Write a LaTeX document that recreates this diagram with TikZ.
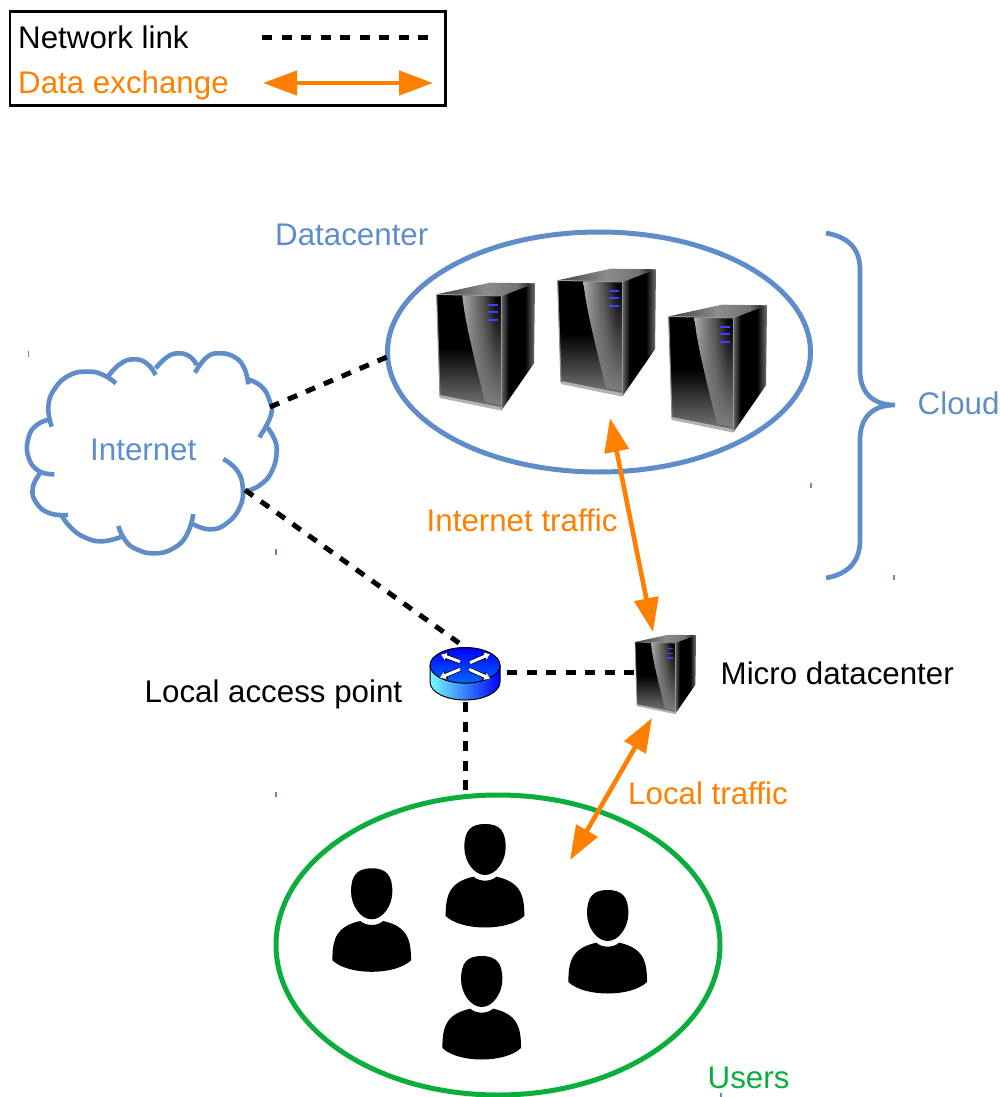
\documentclass[tikz,border=0pt]{standalone}
\usepackage{fontspec}
\setmainfont{Liberation Sans}
\usetikzlibrary{arrows.meta,shapes.geometric,fadings}
\definecolor{cloudblue}{HTML}{5F8DCA}
\definecolor{flow}{HTML}{FF8000}
\definecolor{usergreen}{HTML}{0BAE3C}
\pgfdeclarehorizontalshading{serverside}{100bp}{color(0bp)=(black!62); color(25bp)=(black!62); color(36bp)=(black); color(60bp)=(black); color(75bp)=(black!55); color(100bp)=(black!55)}
\pgfdeclarehorizontalshading{servertop}{100bp}{color(0bp)=(black!75); color(25bp)=(black!75); color(50bp)=(black!45); color(66bp)=(black!55); color(75bp)=(black!95); color(100bp)=(black!95)}
\pgfdeclareverticalshading{serverfront}{100bp}{color(0bp)=(black!52); color(25bp)=(black!52); color(52bp)=(black); color(100bp)=(black)}
\pgfdeclarehorizontalshading{serverstrip}{100bp}{color(0bp)=(black!32); color(25bp)=(black!32); color(52bp)=(black!70); color(68bp)=(black); color(100bp)=(black)}
\tikzfading[name=stripfade,top color=transparent!100,middle color=transparent!75,bottom color=transparent!0]
\tikzset{
  lab/.style={anchor=base west,inner sep=0pt,font=\fontsize{31.3}{36}\selectfont},
  netlink/.style={line width=5pt,dash pattern=on 10pt off 9.5pt,black},
  traffic/.style={line width=4.6pt,flow,{Triangle[length=34pt,width=24pt]}-{Triangle[length=34pt,width=24pt]}},
  cloudline/.style={line width=4.6pt,cloudblue,line cap=butt},
  tick/.style={line width=1.5pt,cloudblue},
}
\newcommand{\servericon}[3]{%
\begin{scope}[shift={(#1,#2)},scale=#3/3]
  \shade[shading=servertop] (50,103) -- (210,68) -- (345,70) -- (245,108) -- cycle;
  \shade[shading=serverfront] (50,103) -- (245,108) -- (245,450) -- (60,410) -- cycle;
  \shade[shading=serverstrip] (127,106) -- (245,108) -- (245,437) -- (195,427) .. controls (165,300) and (135,190) .. (127,106) -- cycle;
  \fill[black!50,path fading=stripfade] (127,106) -- (245,108) -- (245,437) -- (195,427) .. controls (165,300) and (135,190) .. (127,106) -- cycle;
  \shade[shading=serverside] (245,108) -- (345,70) -- (342,310) -- (245,450) -- cycle;
  \fill[black!30] (60,405) -- (245,442) -- (245,452) -- (60,414) -- cycle;
  \draw[line width=#3*1.1pt,black!45] (50,103) -- (60,410);
  \draw[line width=#3*1.6pt,black!40] (245,108) -- (245,450);
  \draw[line width=#3*1pt,black!40] (50,103) -- (245,108);
  \draw[line width=#3*2pt,blue!75!white] (205,134) -- (235,134) (205,157) -- (235,157) (205,180) -- (235,180);
\end{scope}}
\newcommand{\personicon}[2]{%
\begin{scope}[shift={(#1,#2)},scale=1/3]
  \fill[black] (0,0) .. controls (45,0) and (62,22) .. (62,70) .. controls (62,112) and (33,153) .. (0,153)
     .. controls (-33,153) and (-62,112) .. (-62,70) .. controls (-62,22) and (-45,0) .. (0,0) -- cycle;
  \fill[black] (-118,276) .. controls (-118,215) and (-108,174) .. (-34,158) .. controls (-18,174) and (18,174) .. (34,158)
     .. controls (108,174) and (118,215) .. (118,276) .. controls (70,322) and (-70,322) .. (-118,276) -- cycle;
\end{scope}}
\begin{document}
\begin{tikzpicture}[x=1pt,y=-1pt]
\useasboundingbox (0,0) rectangle (1000,1097);
\fill[white] (0,0) rectangle (1000,1097);

% legend
\node[draw=black,line width=2.5pt,minimum width=435.5pt,minimum height=94pt,inner sep=0pt,anchor=north west] (legend) at (8.5,10.5) {};
\node[lab] (netlabel) at (18,49) {Network link};
\node[lab,text=flow] (datalabel) at (18,94) {Data exchange};
\coordinate (netA) at (262,38); \coordinate (netB) at (430,38);
\coordinate (dataA) at (263,83); \coordinate (dataB) at (433,83);
\draw[netlink] (netA) -- (netB);
\draw[traffic] (dataA) -- (dataB);

% ellipses
\node[ellipse,draw=cloudblue,line width=5pt,minimum width=423pt,minimum height=240pt,inner sep=0pt] (dc) at (599,352) {};
\node[ellipse,draw=usergreen,line width=5pt,minimum width=444pt,minimum height=300pt,inner sep=0pt] (users) at (498,945) {};

% servers
\servericon{420}{260}{1}
\servericon{541}{246}{1}
\servericon{652}{282}{1}
\servericon{624.7}{620.7}{0.62}

% cloud
\begin{scope}[shift={(10,340)},scale=1/3]
  \draw[cloudline] plot[smooth,tension=0.8] coordinates {(125,260) (115,200) (135,145) (180,105) (235,95) (280,105) (318,130)};
  \draw[cloudline] plot[smooth,tension=0.8] coordinates {(295,108) (330,72) (370,58) (410,70) (437,105)};
  \draw[cloudline] plot[smooth,tension=0.8] coordinates {(437,85) (470,52) (505,40) (540,50) (560,75)};
  \draw[cloudline] plot[smooth,tension=0.8] coordinates {(555,98) (590,52) (630,40) (675,52) (703,85) (715,133)};
  \draw[cloudline] plot[smooth,tension=0.8] coordinates {(715,118) (755,140) (778,180) (783,225) (748,292)};
  \draw[cloudline] plot[smooth,tension=0.8] coordinates {(765,255) (790,290) (800,335) (785,395) (750,435) (705,455)};
  \draw[cloudline] plot[smooth,tension=0.8] coordinates {(640,357) (680,390) (698,440) (690,500) (650,550) (600,568) (548,552)};
  \draw[cloudline] plot[smooth,tension=0.8] coordinates {(550,522) (530,585) (490,625) (435,640) (380,628) (345,600) (325,558)};
  \draw[cloudline] plot[smooth,tension=0.8] coordinates {(335,590) (275,604) (220,590) (180,560) (155,527)};
  \draw[cloudline] plot[smooth,tension=0.8] coordinates {(174,525) (120,520) (80,490) (68,445) (90,400)};
  \draw[cloudline] plot[smooth,tension=0.8] coordinates {(133,403) (85,392) (55,350) (55,295) (80,255) (122,238)};
\end{scope}

% router
\shade[left color=cyan!55!white,right color=blue] (430,665) -- (430,682) arc[start angle=180,end angle=0,x radius=35,y radius=18] -- (500,665) -- cycle;
\draw[line width=1pt,black] (430,665) -- (430,682) arc[start angle=180,end angle=0,x radius=35,y radius=18] -- (500,665);
\shade[top color=blue,bottom color=blue!60!cyan,draw=black,line width=1pt] (465,665.3) ellipse[x radius=35,y radius=17.8];
\begin{scope}[shift={(410,620)},scale=1/3]
  \foreach \ax/\ay/\bx/\by in {150/125/93/104,180/128/240/102,150/148/90/173,178/148/240/176}{
    \draw[black,line width=4.4pt,-{Triangle[length=7pt,width=9pt]}] (\ax,\ay) -- (\bx,\by);
    \draw[white,line width=3pt,-{Triangle[length=5.5pt,width=7pt]}] (\ax,\ay) -- (\bx,\by);
  }
\end{scope}

% persons
\personicon{485}{824}
\personicon{371.7}{868.3}
\personicon{607.7}{890}
\personicon{481.7}{956}

% brace
\draw[cloudblue,line width=4.7pt] (826,233) .. controls (848,237) and (860,248) .. (860,270) -- (860,370)
  .. controls (860,392) and (872,405) .. (895,405) .. controls (872,405) and (860,418) .. (860,440) -- (860,540)
  .. controls (860,562) and (848,574) .. (826,578);

% connectors
\coordinate (cloudNE) at (270,407); \coordinate (dcW) at (387,357);
\coordinate (cloudSE) at (245,490); \coordinate (routerN) at (459,643);
\coordinate (routerE) at (507,672); \coordinate (microW) at (636,672);
\coordinate (routerS) at (465,702); \coordinate (usersN) at (465,794);
\draw[netlink] (cloudNE) -- (dcW);
\draw[netlink] (cloudSE) -- (routerN);
\draw[netlink] (routerE) -- (microW);
\draw[netlink] (routerS) -- (usersN);

\coordinate (dcS) at (610,418); \coordinate (microN) at (653,632);
\coordinate (microS) at (652,718); \coordinate (usersNE) at (570,860);
\draw[traffic] (dcS) -- (microN);
\draw[traffic] (microS) -- (usersNE);

% labels
\node[lab,text=cloudblue] (dclabel) at (275,245) {Datacenter};
\node[lab,text=cloudblue] (cloudlabel) at (917.5,414) {Cloud};
\node[lab,text=cloudblue] (inetlabel) at (90,460) {Internet};
\node[lab,text=flow] (inettraffic) at (426.5,531) {Internet traffic};
\node[lab] (microlabel) at (720.5,684) {Micro datacenter};
\node[lab] (aplabel) at (144.5,702) {Local access point};
\node[lab,text=flow] (localtraffic) at (628,804) {Local traffic};
\node[lab,text=usergreen] (userslabel) at (707.5,1088) {Users};

% small marks
\draw[tick] (28.5,351) -- (28.5,357);
\draw[tick] (276,549) -- (276,555);
\draw[tick] (276,792) -- (276,797);
\draw[tick] (811,483) -- (811,488);
\draw[tick] (894,575) -- (894,580);
\draw[tick] (721,1093) -- (721,1097);
\end{tikzpicture}
\end{document}
